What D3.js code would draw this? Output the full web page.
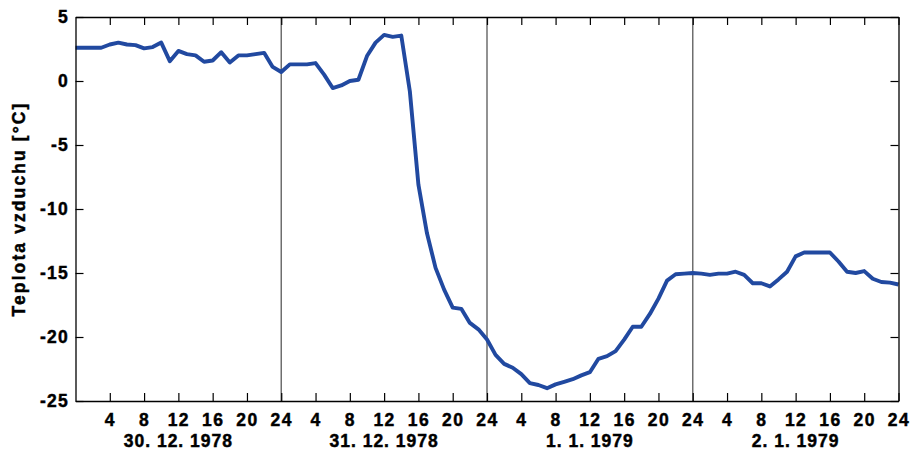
<!DOCTYPE html>
<html>
<head>
<meta charset="utf-8">
<script src="https://cdn.jsdelivr.net/npm/d3@7"></script>
<style>
  html, body { margin: 0; padding: 0; background: #fff; }
  svg { display: block; }
  text { font-family: "Liberation Sans", Arial, sans-serif; font-weight: bold; fill: #000; stroke: #000; stroke-width: 0.45px; }
</style>
</head>
<body>
<svg id="chart" width="913" height="450"></svg>
<script>
// Hourly air temperature, 30.12.1978 00:00 – 2.1.1979 24:00
const hours = d3.range(0, 97);
const temperature = [
  2.6, 2.6, 2.6, 2.6, 2.85, 3.0, 2.85, 2.8, 2.55, 2.65,
  3.0, 1.55, 2.35, 2.1, 2.0, 1.5, 1.6, 2.25, 1.45, 2.0,
  2.0, 2.1, 2.2, 1.1, 0.7, 1.3, 1.3, 1.3, 1.4, 0.5,
  -0.55, -0.35, 0.0, 0.1, 1.95, 3.0, 3.6, 3.45, 3.55, -0.8,
  -8.1, -11.9, -14.6, -16.3, -17.7, -17.8, -18.9, -19.4, -20.2, -21.4,
  -22.1, -22.4, -22.9, -23.6, -23.75, -24.0, -23.7, -23.5, -23.3, -23.0,
  -22.75, -21.7, -21.5, -21.1, -20.2, -19.2, -19.2, -18.2, -17.0, -15.6,
  -15.1, -15.05, -15.0, -15.05, -15.15, -15.05, -15.05, -14.9, -15.15, -15.8,
  -15.8, -16.05, -15.5, -14.9, -13.7, -13.4, -13.4, -13.4, -13.4, -14.1,
  -14.9, -15.0, -14.85, -15.45, -15.7, -15.75, -15.9
];
const dayLabels = ["30. 12. 1978", "31. 12. 1978", "1. 1. 1979", "2. 1. 1979"];
const hourTicks = d3.range(4, 97, 4);
const dayBreaks = [24, 48, 72];
const tempTicks = [-25, -20, -15, -10, -5, 0, 5];
const yTitle = "Teplota vzduchu [°C]";

const W = 913, H = 450;
const margin = { top: 17, right: 14.5, bottom: 49, left: 75.5 };
const svg = d3.select("#chart");

const x = d3.scaleLinear().domain([0, 96]).range([margin.left, W - margin.right]);
const y = d3.scaleLinear().domain([-25, 5]).range([H - margin.bottom, margin.top]);

// day separators
svg.append("g").selectAll("line").data(dayBreaks).join("line")
  .attr("x1", d => x(d)).attr("x2", d => x(d))
  .attr("y1", y(5)).attr("y2", y(-25))
  .attr("stroke", "#6e6e6e").attr("stroke-width", 1.5);

// temperature curve
const line = d3.line().x((d, i) => x(hours[i])).y(d => y(d));
svg.append("path").datum(temperature)
  .attr("d", line)
  .attr("fill", "none")
  .attr("stroke", "#2149a0")
  .attr("stroke-width", 3.9)
  .attr("stroke-linejoin", "round");

// axes with inward ticks on all four sides
const hourLabel = h => String(h % 24 === 0 ? 24 : h % 24);

const gBottom = svg.append("g")
  .attr("transform", `translate(0,${y(-25)})`)
  .call(d3.axisBottom(x).tickValues(hourTicks).tickFormat(hourLabel)
    .tickSizeInner(-8).tickSizeOuter(0).tickPadding(13));
const gTop = svg.append("g")
  .attr("transform", `translate(0,${y(5)})`)
  .call(d3.axisTop(x).tickValues(hourTicks).tickFormat("")
    .tickSizeInner(-8).tickSizeOuter(0));
const gLeft = svg.append("g")
  .attr("transform", `translate(${x(0)},0)`)
  .call(d3.axisLeft(y).tickValues(tempTicks).tickFormat(d => String(d))
    .tickSizeInner(-8).tickSizeOuter(0).tickPadding(6.5));
const gRight = svg.append("g")
  .attr("transform", `translate(${x(96)},0)`)
  .call(d3.axisRight(y).tickValues(tempTicks).tickFormat("")
    .tickSizeInner(-8).tickSizeOuter(0));

[gBottom, gTop, gLeft, gRight].forEach(g => {
  g.select(".domain").attr("stroke", "#000").attr("stroke-width", 1.3);
  g.selectAll(".tick line").attr("stroke", "#000").attr("stroke-width", 1.2);
  g.selectAll("text")
    .attr("font-family", "'Liberation Sans', Arial, sans-serif")
    .attr("font-weight", "bold")
    .attr("fill", "#000");
});
gBottom.selectAll("text").attr("font-size", 17.5).style("letter-spacing", "1.5px");
gLeft.selectAll("text").attr("font-size", 17.5).style("letter-spacing", "1.2px");

// day labels
svg.append("g").selectAll("text").data(dayLabels).join("text")
  .attr("x", (d, i) => x(i * 24 + 12))
  .attr("y", 446.5)
  .attr("text-anchor", "middle")
  .attr("font-size", 17.5)
  .style("letter-spacing", "1px")
  .text(d => d);

// y axis title
svg.append("text")
  .attr("transform", `translate(25,${(y(5) + y(-25)) / 2}) rotate(-90)`)
  .attr("text-anchor", "middle")
  .attr("font-size", 17.5)
  .style("letter-spacing", "2.1px")
  .text(yTitle);
</script>
</body>
</html>
